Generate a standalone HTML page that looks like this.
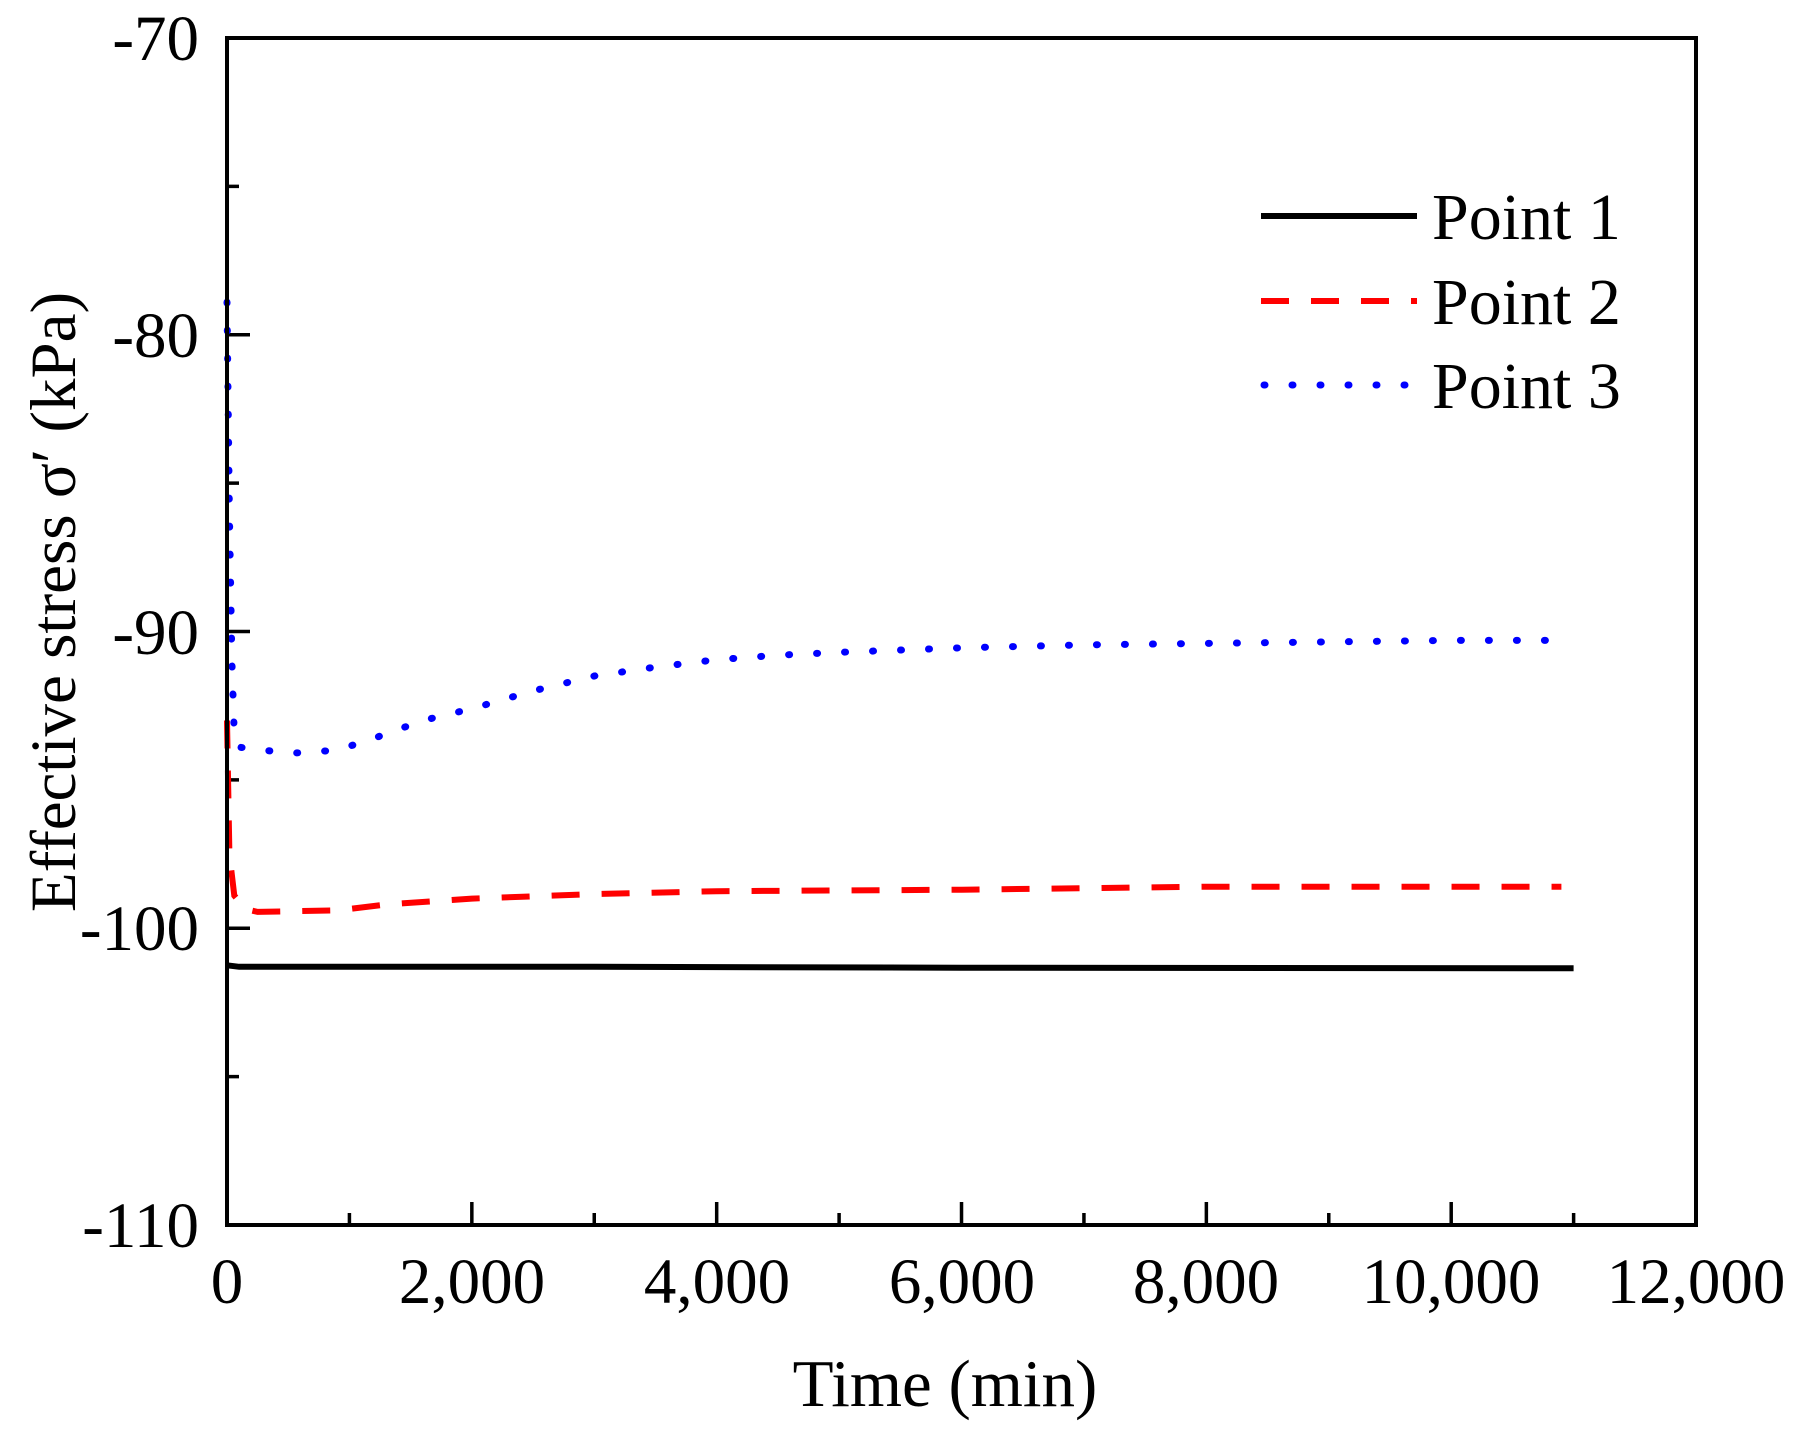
<!DOCTYPE html>
<html><head><meta charset="utf-8"><style>
html,body{margin:0;padding:0;background:#fff;}
svg{display:block;}
text{font-family:"Liberation Serif",serif;fill:#000;}
</style></head><body>
<svg id="s" width="1805" height="1433" viewBox="0 0 1805 1433" xmlns="http://www.w3.org/2000/svg">
<g id="ticks" stroke="#000" stroke-width="3.5"></g>
<g id="data" fill="none" stroke-width="6"></g>
<rect x="227" y="38" width="1469" height="1187" fill="none" stroke="#000" stroke-width="4"/>
<g font-size="65" text-anchor="end">
<text x="199" y="60">-70</text>
<text x="199" y="357">-80</text>
<text x="199" y="654">-90</text>
<text x="199" y="950">-100</text>
<text x="199" y="1247">-110</text>
</g>
<g font-size="65" text-anchor="middle">
<text x="227" y="1303">0</text>
<text x="472" y="1303">2,000</text>
<text x="717" y="1303">4,000</text>
<text x="962" y="1303">6,000</text>
<text x="1206" y="1303">8,000</text>
<text x="1451" y="1303">10,000</text>
<text x="1696" y="1303">12,000</text>
</g>
<text x="945" y="1406" font-size="67" text-anchor="middle">Time (min)</text>
<text transform="translate(75,602) rotate(-90)" font-size="65" text-anchor="middle">Effective stress σ′ (kPa)</text>
<line x1="1261" y1="216" x2="1417" y2="216" stroke="#000" stroke-width="6"/>
<line x1="1261" y1="301" x2="1417" y2="301" stroke="#f00" stroke-width="6" stroke-dasharray="28,22"/>
<line x1="1264" y1="385" x2="1417" y2="385" stroke="#00f" stroke-width="7" stroke-linecap="round" stroke-dasharray="1,27"/>
<g font-size="66">
<text x="1432" y="239">Point 1</text>
<text x="1432" y="324">Point 2</text>
<text x="1432" y="408">Point 3</text>
</g>
</svg>
<script>
var NS="http://www.w3.org/2000/svg";
function X(t){return 227+t*0.12242;}
function Y(v){return 38+(-70-v)*29.675;}
var tk=document.getElementById("ticks");
function ln(x1,y1,x2,y2){var l=document.createElementNS(NS,"line");l.setAttribute("x1",x1);l.setAttribute("y1",y1);l.setAttribute("x2",x2);l.setAttribute("y2",y2);tk.appendChild(l);}
for(var v=-70;v>=-110;v-=5){var y=Y(v);ln(227,y,227+((v%10==0)?23:12),y);}
for(var t=0;t<=12000;t+=1000){var x=X(t);ln(x,1225,x,1225-((t%2000==0)?23:12));}
var d=document.getElementById("data");
function pl(pts,col,dash,cap,w){var p=document.createElementNS(NS,"polyline");p.setAttribute("points",pts.map(function(a){return X(a[0]).toFixed(1)+","+Y(a[1]).toFixed(1)}).join(" "));p.setAttribute("stroke",col);if(dash)p.setAttribute("stroke-dasharray",dash);if(cap)p.setAttribute("stroke-linecap",cap);if(w)p.setAttribute("stroke-width",w);d.appendChild(p);}
pl([[0,-101.25],[100,-101.3],[3000,-101.3],[6000,-101.33],[11000,-101.35]],"#000");
pl([[0,-93],[20,-97.5],[60,-98.9],[150,-99.35],[250,-99.45],[900,-99.4],[1300,-99.2],[2000,-99.0],[3000,-98.85],[4000,-98.75],[6000,-98.7],[8000,-98.6],[10900,-98.6]],"#f00","28,22");
pl([[0,-78.9],[20,-86],[40,-91],[60,-93.5],[100,-93.9],[300,-94.0],[530,-94.1],[900,-94.0],[1200,-93.6],[1600,-93.0],[2000,-92.6],[2500,-92.0],[3000,-91.5],[3500,-91.2],[4000,-90.95],[4500,-90.8],[5000,-90.7],[6000,-90.55],[7000,-90.45],[8000,-90.4],[9000,-90.35],[10000,-90.3],[10850,-90.3]],"#00f","1,27","round",7);
</script>
</body></html>
